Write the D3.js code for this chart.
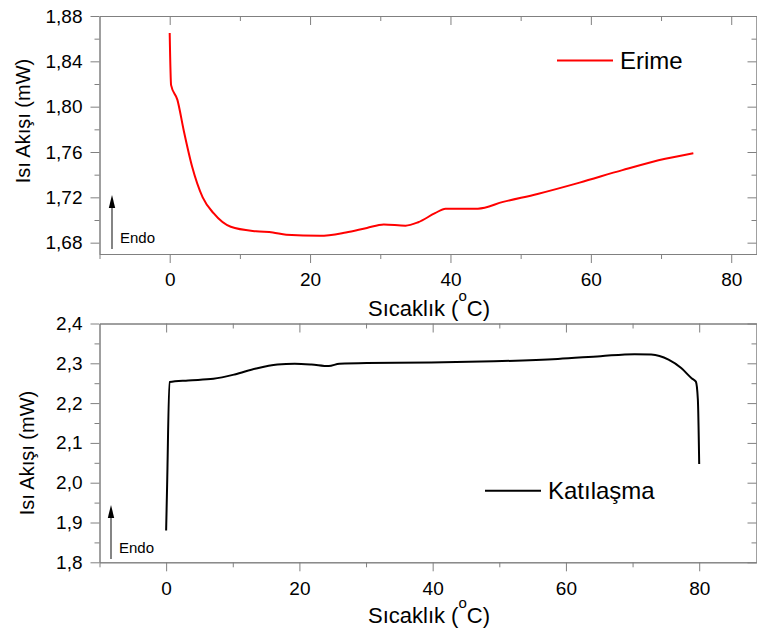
<!DOCTYPE html>
<html><head><meta charset="utf-8">
<script src="https://cdn.jsdelivr.net/npm/d3@7"></script>
<style>body{margin:0;background:#fff} text{font-family:"Liberation Sans",Arial,sans-serif;fill:#000}</style>
</head><body><svg id="c" width="757" height="632"></svg>
<script>
// ---- data ----
const meltTemp = [0, 0.2, 1.1, 2.0, 3.2, 4.7, 6.25, 8.7, 12.3, 14.7, 16.6, 21.4, 25.1, 28.1, 30.5, 33.6, 35.4, 37.8, 39.3, 41.4, 43.9, 47.5, 52.4, 58.4, 64.5, 70.6, 74.6];
const meltHeat = [1.865, 1.819, 1.806, 1.779, 1.747, 1.720, 1.706, 1.694, 1.690, 1.689, 1.687, 1.686, 1.689, 1.693, 1.696, 1.695, 1.698, 1.706, 1.710, 1.710, 1.710, 1.716, 1.723, 1.733, 1.744, 1.754, 1.759];
const solidTemp = [0, 0.15, 0.5, 3.3, 7.1, 10.3, 13.5, 16.7, 19.3, 21.8, 24.4, 26.0, 30.1, 39.7, 49.2, 58.8, 65.2, 70.3, 72.8, 75.4, 77.3, 78.9, 79.5, 79.8, 80.0];
const solidHeat = [1.880, 1.995, 2.253, 2.257, 2.261, 2.272, 2.287, 2.297, 2.299, 2.297, 2.293, 2.299, 2.301, 2.302, 2.305, 2.311, 2.318, 2.323, 2.322, 2.309, 2.288, 2.262, 2.254, 2.209, 2.047];
const seriesNames = ["Erime", "Katılaşma"];
const xMajor = [0, 20, 40, 60, 80];
const xMinor = [-10, 10, 30, 50, 70];
const topYMajor = [1.68, 1.72, 1.76, 1.80, 1.84, 1.88];
const topYMinor = [1.70, 1.74, 1.78, 1.82, 1.86];
const botYMajor = [1.8, 1.9, 2.0, 2.1, 2.2, 2.3, 2.4];
const botYMinor = [1.85, 1.95, 2.05, 2.15, 2.25, 2.35];
const xTitle = "Sıcaklık (";
const yTitle = "Isı Akışı (mW)";

const svg = d3.select("#c");
const AX = "#808080";

function panel(o) {
  const x = d3.scaleLinear().domain(o.xDom).range([o.l, o.r]);
  const y = d3.scaleLinear().domain(o.yDom).range([o.b, o.t]);
  const g = svg.append("g");
  const fmt = d => d.toFixed(o.dec).replace(".", ",");
  function styl(sel) {
    sel.selectAll("path,line").attr("stroke", AX).attr("stroke-width", 1);
    sel.selectAll("text").style("font-size", "19px").attr("fill", "#000");
  }
  // bottom
  g.append("g").attr("transform", `translate(0,${o.b})`)
    .call(d3.axisBottom(x).tickValues(xMajor).tickSize(9).tickSizeOuter(0).tickPadding(10).tickFormat(d3.format("d"))).call(styl);
  g.append("g").attr("transform", `translate(0,${o.b})`)
    .call(d3.axisBottom(x).tickValues(xMinor).tickSize(5).tickSizeOuter(0).tickFormat("")).call(styl);
  // top (inward)
  g.append("g").attr("transform", `translate(0,${o.t})`)
    .call(d3.axisTop(x).tickValues(xMajor).tickSize(-9).tickSizeOuter(0).tickFormat("")).call(styl);
  g.append("g").attr("transform", `translate(0,${o.t})`)
    .call(d3.axisTop(x).tickValues(xMinor.filter(v => v > o.xDom[0])).tickSize(-5).tickSizeOuter(0).tickFormat("")).call(styl);
  // left
  g.append("g").attr("transform", `translate(${o.l},0)`)
    .call(d3.axisLeft(y).tickValues(o.yMajor).tickSize(9).tickSizeOuter(0).tickPadding(8).tickFormat(fmt)).call(styl);
  g.append("g").attr("transform", `translate(${o.l},0)`)
    .call(d3.axisLeft(y).tickValues(o.yMinor).tickSize(5).tickSizeOuter(0).tickFormat("")).call(styl);
  // right (inward)
  g.append("g").attr("transform", `translate(${o.r},0)`)
    .call(d3.axisRight(y).tickValues(o.yMajor).tickSize(-9).tickSizeOuter(0).tickFormat("")).call(styl);
  g.append("g").attr("transform", `translate(${o.r},0)`)
    .call(d3.axisRight(y).tickValues(o.yMinor).tickSize(-5).tickSizeOuter(0).tickFormat("")).call(styl);

  // curve
  const pts = o.xs.map((v, i) => [v, o.ys[i]]);
  g.append("path").datum(pts)
    .attr("fill", "none").attr("stroke", o.color).attr("stroke-width", 2).attr("stroke-linejoin", "round")
    .attr("d", d3.line().x(d => x(d[0])).y(d => y(d[1])).curve(d3.curveMonotoneX));

  // legend
  g.append("line").attr("x1", o.legX).attr("x2", o.legX + 56).attr("y1", o.legY).attr("y2", o.legY)
    .attr("stroke", o.color).attr("stroke-width", 2);
  g.append("text").attr("x", o.legX + 63).attr("y", o.legY + 8.5).style("font-size", "24px").text(o.name);

  // Endo arrow
  g.append("line").attr("x1", o.arX).attr("x2", o.arX).attr("y1", o.arB).attr("y2", o.arT + 12)
    .attr("stroke", "#333").attr("stroke-width", 1.2);
  g.append("path").attr("d", `M${o.arX},${o.arT} L${o.arX - 3.2},${o.arT + 13} L${o.arX + 3.2},${o.arT + 13} Z`).attr("fill", "#000");
  g.append("text").attr("x", o.arX + 8).attr("y", o.arB - 6).style("font-size", "15px").text("Endo");

  // axis titles
  const xt = g.append("text").attr("x", (o.l + o.r) / 2 + 1).attr("y", o.xtY).attr("text-anchor", "middle").style("font-size", "22px");
  xt.append("tspan").text(xTitle);
  xt.append("tspan").attr("dy", -15.5).style("font-size", "15px").text("o");
  xt.append("tspan").attr("dy", 15.5).text("C)");
  g.append("text").attr("transform", `translate(${o.ytX},${o.ytC}) rotate(-90)`).attr("text-anchor", "middle")
    .style("font-size", "20px").text(yTitle);
}

panel({xDom: [-10, 83.6], yDom: [1.67, 1.88], l: 99.5, r: 756.5, t: 16, b: 254, dec: 2,
  yMajor: topYMajor, yMinor: topYMinor, xs: meltTemp, ys: meltHeat, color: "#ff0000", name: seriesNames[0],
  legX: 557, legY: 60.5, arX: 112, arT: 195, arB: 249, xtY: 316, ytX: 30, ytC: 121});
panel({xDom: [-10, 88.6], yDom: [1.8, 2.4], l: 99.5, r: 756.5, t: 323.5, b: 562.3, dec: 1,
  yMajor: botYMajor, yMinor: botYMinor, xs: solidTemp, ys: solidHeat, color: "#000", name: seriesNames[1],
  legX: 485, legY: 490.7, arX: 111, arT: 505, arB: 559, xtY: 623, ytX: 34, ytC: 453});
</script></body></html>
